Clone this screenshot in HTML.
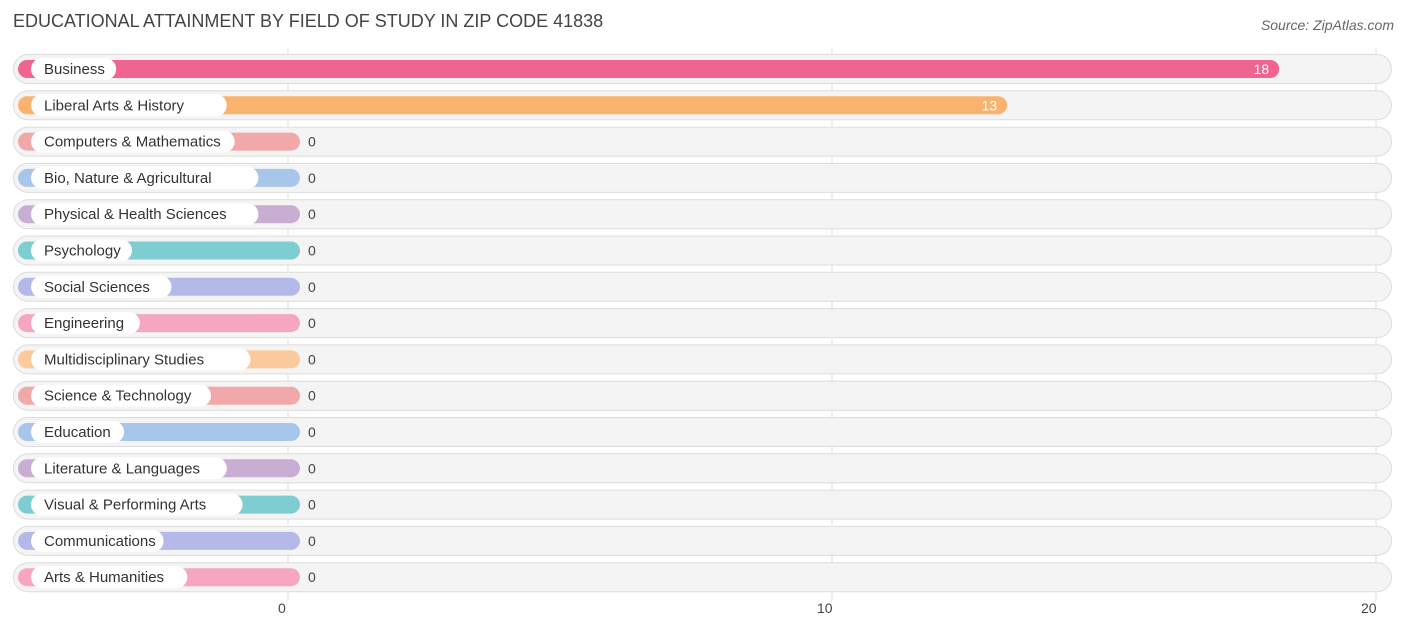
<!DOCTYPE html>
<html><head><meta charset="utf-8"><style>
body{margin:0;background:#fff;font-family:"Liberation Sans",sans-serif;}
#wrap{position:relative;width:1406px;height:632px;overflow:hidden}
.title{position:absolute;left:13px;top:11px;font-size:18px;color:#444}
.src{position:absolute;right:12px;top:17px;font-size:14px;color:#666;font-style:italic}
</style></head><body><div id="wrap">
<div class="title">EDUCATIONAL ATTAINMENT BY FIELD OF STUDY IN ZIP CODE 41838</div>
<div class="src">Source: ZipAtlas.com</div>
<svg id="svg" width="1406" height="632" style="position:absolute;left:0;top:0"></svg>
</div>
<script>
const categories=["Business","Liberal Arts & History","Computers & Mathematics","Bio, Nature & Agricultural","Physical & Health Sciences","Psychology","Social Sciences","Engineering","Multidisciplinary Studies","Science & Technology","Education","Literature & Languages","Visual & Performing Arts","Communications","Arts & Humanities"];
const values=[18,13,0,0,0,0,0,0,0,0,0,0,0,0,0];
const tickValues=[0,10,20];
const colors=["#f06490","#f9b36e","#f0a9a8","#a8c6ea","#c9aed4","#7ecdd0","#b4b9ea","#f7a6c1","#fbc99c","#f0a9a8","#a8c6ea","#c9aed4","#7ecdd0","#b4b9ea","#f7a6c1"];
const NS="http://www.w3.org/2000/svg";
const svg=document.getElementById('svg');
const x=v=>288+v*54.4;
const y=i=>69+i*36.3;
function mk(t,a){const e=document.createElementNS(NS,t);for(const k in a)e.setAttribute(k,a[k]);svg.appendChild(e);return e;}
tickValues.forEach(t=>{
const l=mk('line',{x1:x(t),x2:x(t),y1:48,y2:600,stroke:'#ddd','stroke-width':1});


const tx=mk('text',{x:x(t)-(t===0?10:(t===20?15:15)),y:613,'font-size':14,fill:'#444','font-family':'Liberation Sans'});
tx.textContent=t;


});
categories.forEach((c,i)=>{
const cy=y(i);
const bg=mk('rect',{x:13.5,y:cy-14.5,width:1378,height:29,rx:14.5,fill:'#f4f4f4',stroke:'#dcdcdc','stroke-width':1});


const w=x(values[i])+12-18;
const b=mk('rect',{x:18,y:cy-9,width:w,height:18,rx:9,fill:colors[i]});


const tw=c.length*7.9+22;
const p=mk('rect',{x:31,y:cy-11,width:tw,height:22,rx:11,fill:'#fff'});


const t=mk('text',{x:44,y:cy+5,'font-size':15,fill:'#333','font-family':'Liberation Sans'});
t.textContent=c;


const inside=values[i]>0;
const v=mk('text',{x:inside?x(values[i])+2:x(values[i])+20,y:cy+5,'font-size':14,fill:inside?'#fff':'#444','text-anchor':inside?'end':'start','font-family':'Liberation Sans'});
v.textContent=values[i];


});
</script></body></html>
